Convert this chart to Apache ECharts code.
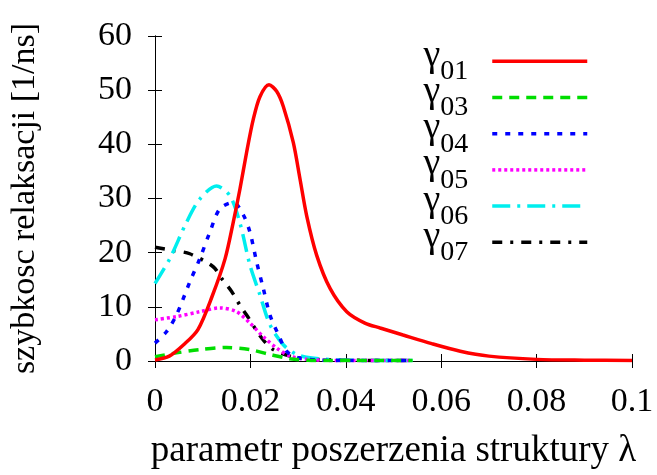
<!DOCTYPE html>
<html>
<head>
<meta charset="utf-8">
<script src="https://cdn.jsdelivr.net/npm/echarts@6/dist/echarts.min.js"></script>
<style>
html,body{margin:0;padding:0;background:#fff;}
#chart{width:657px;height:475px;}
</style>
</head>
<body>
<div id="chart"></div>
<script>
// ---- data ----
const xTicks = [0, 0.02, 0.04, 0.06, 0.08, 0.1];
const yTicks = [0, 10, 20, 30, 40, 50, 60];

const g01x = [0,0.003,0.006,0.009,0.012,0.0147,0.0164,0.0178,0.0192,0.0206,0.022,0.0239,0.0255,0.0269,0.029,0.0304,0.0318,0.0339,0.0367,0.0402,0.044,0.0472,0.052,0.058,0.064,0.07,0.08,0.09,0.1];
const g01y = [0.2,0.9,3.0,5.8,12.0,18.9,25.6,31.7,38.5,44.6,48.8,51,49.8,47,40.3,33.6,26.8,19.5,13.4,9.1,7.0,6.1,4.8,3.2,1.8,0.9,0.3,0.15,0.1];

const g03x = [0,0.0045,0.0094,0.015,0.0199,0.0241,0.0283,0.032,0.036,0.042,0.048,0.054];
const g03y = [0.8,1.5,2.1,2.5,2.1,1.2,0.4,0.15,0.1,0.1,0.1,0.1];

const g04x = [0,0.0024,0.0045,0.0073,0.0094,0.0115,0.0136,0.0164,0.0185,0.0199,0.0213,0.0227,0.0241,0.0259,0.0276,0.03,0.034,0.04,0.047,0.054];
const g04y = [3.3,5.4,8.5,14.6,18.9,23.8,28.1,29.3,27,23.8,18.3,13.4,8.5,4.8,1.8,0.6,0.2,0.1,0.1,0.1];

const g05x = [0,0.0045,0.0094,0.0136,0.0171,0.0199,0.0227,0.0255,0.0283,0.032,0.038,0.046,0.054];
const g05y = [7.6,8.2,9.1,9.8,9.1,7.0,4.5,2.4,0.9,0.3,0.1,0.1,0.1];

const g06x = [0,0.0031,0.0066,0.0094,0.0129,0.0157,0.0178,0.0199,0.022,0.0241,0.0269,0.0297,0.0325,0.038,0.046,0.054];
const g06y = [14.3,18.9,25.6,29.9,32.3,30.5,25.5,17.7,12.2,6.7,3.0,1.2,0.6,0.2,0.1,0.1];

const g07x = [0,0.0038,0.0073,0.0122,0.014,0.0161,0.0178,0.0192,0.0224,0.0248,0.0283,0.032,0.038,0.046,0.054];
const g07y = [21,20.4,19.8,17.4,15.2,12.8,10.3,8.5,4.2,2.1,0.9,0.4,0.2,0.1,0.1];

const seriesNames = ['γ01','γ03','γ04','γ05','γ06','γ07'];
const xTitle = 'parametr poszerzenia struktury λ';
const yTitle = 'szybkosc relaksacji [1/ns]';

// ---- build ----
const FONT = 'Liberation Serif';
function pairs(xs, ys){ return xs.map((x,i)=>[x, ys[i]]); }
const allData = [pairs(g01x,g01y),pairs(g03x,g03y),pairs(g04x,g04y),pairs(g05x,g05y),pairs(g06x,g06y),pairs(g07x,g07y)];
const colors = ['#ff0000','#00dd00','#0000ff','#ff00ff','#00eeee','#000000'];
const dashes = ['solid',[10,7],[5,8],[3,3],[18,7,3,7],[10,8,3,8]];
const LW = 3.5;

const chart = echarts.init(document.getElementById('chart'), null, {renderer:'canvas'});
const axisCommon = {
  type:'value',
  axisLine:{show:true, lineStyle:{color:'#000', width:1}},
  axisTick:{show:true, inside:true, length:7, lineStyle:{color:'#000', width:1}},
  splitLine:{show:false}
};
const option = {
  animation:false,
  backgroundColor:'#fff',
  grid:{left:155, right:25, top:36, bottom:112, containLabel:false},
  legend:{
    orient:'vertical', right:63, top:31.8, align:'right',
    itemWidth:95, itemHeight:12, itemGap:-12.8,
    data:seriesNames.map((n,i)=>({
      name:n,
      itemStyle:{opacity:0},
      lineStyle:{color:colors[i], width:LW, type:dashes[i]}
    })),
    formatter:function(name){ return '{g|γ}{s|' + name.slice(1) + '}'; },
    textStyle:{
      color:'#000',
      rich:{
        g:{fontFamily:FONT, fontSize:38, lineHeight:49, verticalAlign:'top', color:'#000'},
        s:{fontFamily:FONT, fontSize:28, lineHeight:28, verticalAlign:'bottom', padding:[0,19,0,0], color:'#000'}
      }
    }
  },
  xAxis:[
    Object.assign({}, axisCommon, {
      min:0, max:0.1, interval:0.02, position:'bottom',
      axisLabel:{show:true, margin:24, fontFamily:FONT, fontSize:34, color:'#000',
        formatter:function(v){ const i = xTicks.findIndex(t=>Math.abs(t-v)<1e-9); return i>=0 ? String(xTicks[i]) : ''; }},
      name:xTitle, nameLocation:'middle', nameGap:72,
      nameTextStyle:{fontFamily:FONT, fontSize:37, color:'#000'}
    }),
    Object.assign({}, axisCommon, {
      min:0, max:0.1, interval:0.02, position:'top', axisLabel:{show:false}
    })
  ],
  yAxis:[
    Object.assign({}, axisCommon, {
      min:0, max:60, interval:10, position:'left',
      axisLabel:{show:true, margin:23, fontFamily:FONT, fontSize:34, color:'#000',
        formatter:function(v){ return yTicks.indexOf(v)>=0 ? String(v) : ''; }},
      name:yTitle, nameLocation:'middle', nameRotate:90, nameGap:113,
      nameTextStyle:{fontFamily:FONT, fontSize:34, color:'#000'}
    }),
    Object.assign({}, axisCommon, {
      min:0, max:60, interval:10, position:'right', axisLabel:{show:false}
    })
  ],
  series: seriesNames.map((n,i)=>({
    name:n, type:'line', xAxisIndex:0, yAxisIndex:0,
    data:allData[i], showSymbol:false, symbol:'none', smooth:0.3,
    lineStyle:{color:colors[i], width:LW, type:dashes[i]},
    itemStyle:{color:colors[i]},
    z: 10 - i
  }))
};
chart.setOption(option);
</script>
</body>
</html>
